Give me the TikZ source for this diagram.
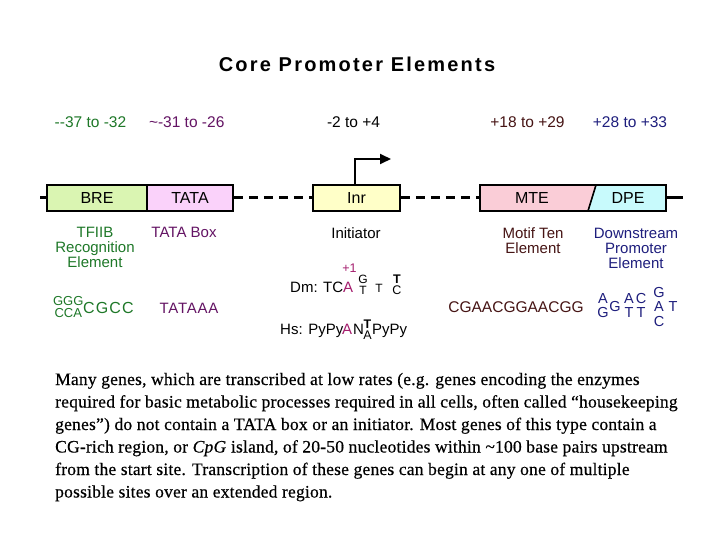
\documentclass[tikz,border=0pt]{standalone}
\usepackage{fontspec}
\setmainfont{Liberation Serif}[FakeBold=0.4,LetterSpace=1.2]
\newfontfamily\arial{Liberation Sans}
\newfontfamily\arialtitle{Liberation Sans}[LetterSpace=11]
\newfontfamily\seqfont{Liberation Sans}[LetterSpace=5]
\usetikzlibrary{arrows.meta}
\definecolor{cgrn}{RGB}{30,120,40}
\definecolor{cpur}{RGB}{100,20,100}
\definecolor{cbrn}{RGB}{70,20,20}
\definecolor{cnavy}{RGB}{30,30,125}
\definecolor{cmag}{RGB}{165,30,110}
\definecolor{brefill}{RGB}{218,245,178}
\definecolor{tatafill}{RGB}{250,210,250}
\definecolor{inrfill}{RGB}{255,255,200}
\definecolor{mtefill}{RGB}{250,205,215}
\definecolor{dpefill}{RGB}{200,250,252}
\tikzset{
  lbl/.style={font=\arial\fontsize{15.5}{15.5}\selectfont, inner sep=0pt, anchor=base},
  desc/.style={font=\arial\fontsize{15}{15}\selectfont, inner sep=0pt, anchor=north, align=center},
  box/.style={draw, line width=1.6pt, minimum height=26pt, inner sep=0pt, font=\arial\fontsize{16}{16}\selectfont},
  dna/.style={line width=3pt},
  seq/.style={font=\seqfont\fontsize{15}{15}\selectfont, inner sep=0pt, anchor=base},
  seqs/.style={font=\arial\fontsize{13}{13}\selectfont, inner sep=0pt, anchor=base},
  dpes/.style={font=\arial\fontsize{14.5}{14.5}\selectfont, inner sep=0pt, anchor=base, text=cnavy},
  tiny/.style={font=\arial\fontsize{12}{12}\selectfont, inner sep=0pt, anchor=base},
  inl/.style={font=\arial\fontsize{15}{15}\selectfont, inner sep=0pt, anchor=base west},
  para/.style={font=\fontsize{17.5}{22.5}\selectfont, inner sep=0pt, anchor=base west},
}
\begin{document}
\begin{tikzpicture}[x=1pt,y=-1pt]
\useasboundingbox (0,0) rectangle (720,540);
\fill[white] (0,0) rectangle (720,540);

% title
\node[font=\arialtitle\bfseries\fontsize{20}{20}\selectfont, inner sep=0pt, anchor=base] (title) at (357,71.5) {Core Promoter Elements};

% position labels
\node[lbl, text=cgrn] (p1) at (90.5,128) {-{}-37 to -32};
\node[lbl, text=cpur] (p2) at (186.7,128) {\textasciitilde-31 to -26};
\node[lbl] (p3) at (353.5,128) {-2 to +4};
\node[lbl, text=cbrn] (p4) at (527.5,128) {+18 to +29};
\node[lbl, text=cnavy] (p5) at (630,128) {+28 to +33};

% DNA boxes
\fill[mtefill] (480,185) -- (596,185) -- (588,211) -- (480,211) -- cycle;
\fill[dpefill] (596,185) -- (666,185) -- (666,211) -- (588,211) -- cycle;
\node[box, fill=brefill, minimum width=100pt] (bre) at (97,198) {BRE};
\node[box, fill=tatafill, minimum width=86pt] (tata) at (190,198) {TATA};
\node[box, fill=inrfill, minimum width=87pt] (inr) at (356.5,198) {Inr};
\node[box, minimum width=186pt] (md) at (573,198) {};
\draw[line width=1.6pt] (596,185) -- (588,211);
\node[font=\arial\fontsize{16}{16}\selectfont, inner sep=0pt] (mte) at (532,198) {MTE};
\node[font=\arial\fontsize{16}{16}\selectfont, inner sep=0pt] (dpe) at (628,198) {DPE};

% DNA line
\coordinate (L) at (40,198);
\coordinate (R) at (683,198);
\draw[dna] (L) -- (bre.west);
\draw[dna, dash pattern=on 9pt off 6pt] (tata.east) -- (inr.west);
\draw[dna, dash pattern=on 9pt off 6pt] (inr.east) -- (md.west);
\draw[dna] (md.east) -- (R);

% transcription start arrow
\coordinate (tss) at (391,159);
\draw[line width=1.8pt, -{Triangle[length=11pt,width=10pt]}] ([xshift=-1.5pt]inr.north) |- (tss);

% descriptions
\node[desc, text=cgrn] (d1) at (95,227) {TFIIB\\Recognition\\Element};
\node[desc, text=cpur] (d2) at (184,227) {TATA Box};
\node[desc] (d3) at (356,227) {Initiator};
\node[desc, text=cbrn] (d4) at (533,227.5) {Motif Ten\\Element};
\node[desc, text=cnavy] (d5) at (636,227.5) {Downstream\\Promoter\\Element};

% BRE sequence
\node[seqs, text=cgrn] (g1) at (68.3,305.5) {GGG};
\node[seqs, text=cgrn] (g2) at (68.3,317.5) {CCA};
\node[seq, text=cgrn, anchor=base west, font=\arial\addfontfeature{LetterSpace=7}\fontsize{16}{16}\selectfont] (g3) at (83,313) {CGCC};
% TATA sequence
\node[seq, text=cpur] (t1) at (189,313) {TATAAA};

% Dm initiator
\node[inl] (dm1) at (290,292) {Dm: TC};
\node[inl, text=cmag] (dm2) at (343,292) {A};
\node[tiny, text=cmag, font=\arial\fontsize{12.5}{12.5}\selectfont] (plus1) at (349.5,272.5) {+1};
\node[tiny] (dm3) at (363,283) {G};
\node[tiny] (dm4) at (363,294.5) {T};
\node[tiny] (dm5) at (379,292) {T};
\node[tiny, font=\arial\bfseries\fontsize{12.5}{12.5}\selectfont] (dm6) at (397,283) {T};
\node[tiny, font=\arial\fontsize{12.5}{12.5}\selectfont] (dm7) at (397,294.5) {C};

% Hs initiator
\node[inl] (hs1) at (280,334.5) {Hs: PyPy};
\node[inl, text=cmag] (hs2) at (342,334.5) {A};
\node[inl] (hs3) at (353,334.5) {N};
\node[tiny, font=\arial\bfseries\fontsize{12.5}{12.5}\selectfont] (hs4) at (367.5,328.5) {T};
\node[tiny, font=\arial\fontsize{12.5}{12.5}\selectfont] (hs5) at (367.5,339.5) {A};
\node[inl] (hs6) at (372,334.5) {PyPy};

% MTE sequence
\node[seq, text=cbrn, font=\arial\fontsize{15.5}{15.5}\selectfont] (m1) at (516,312.5) {CGAACGGAACGG};

% DPE sequence
\node[dpes] (e1) at (603,303.5) {A};
\node[dpes] (e2) at (603,317) {G};
\node[dpes] (e3) at (615,311) {G};
\node[dpes] (e4) at (629,303.5) {A};
\node[dpes] (e5) at (629,317) {T};
\node[dpes] (e6) at (641,303.5) {C};
\node[dpes] (e7) at (641,317) {T};
\node[dpes] (e8) at (659,297) {G};
\node[dpes] (e9) at (659,311.5) {A};
\node[dpes] (e10) at (659,326) {C};
\node[dpes] (e11) at (673,311.5) {T};

% paragraph
\node[para] (r1) at (55,385) {Many genes, which are transcribed at low rates (e.g. genes encoding the enzymes};
\node[para] (r2) at (55,407.5) {required for basic metabolic processes required in all cells, often called “housekeeping};
\node[para] (r3) at (55,430) {genes”) do not contain a TATA box or an initiator. Most genes of this type contain a};
\node[para] (r4) at (55,452.5) {CG-rich region, or \textit{CpG} island, of 20-50 nucleotides within \textasciitilde100 base pairs upstream};
\node[para] (r5) at (55,475) {from the start site. Transcription of these genes can begin at any one of multiple};
\node[para] (r6) at (55,497.5) {possible sites over an extended region.};
\end{tikzpicture}
\end{document}
